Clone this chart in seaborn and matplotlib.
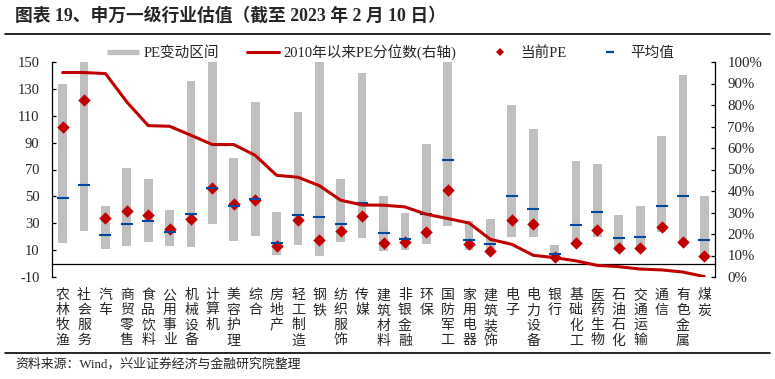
import numpy as np
import pandas as pd
import matplotlib
matplotlib.use("Agg")
import matplotlib.pyplot as plt
import seaborn as sns
from matplotlib.lines import Line2D

# ---------------- data ----------------
categories = ["农林牧渔", "社会服务", "汽车", "商贸零售", "食品饮料", "公用事业", "机械设备",
              "计算机", "美容护理", "综合", "房地产", "轻工制造", "钢铁", "纺织服饰", "传媒",
              "建筑材料", "非银金融", "环保", "国防军工", "家用电器", "建筑装饰", "电子",
              "电力设备", "银行", "基础化工", "医药生物", "石油石化", "交通运输", "通信",
              "有色金属", "煤炭"]
pe_high = [133.6, 150, 42.9, 71.1, 63.0, 39.9, 135.9, 150, 78.6, 120.2, 38.4, 112.8, 150,
           63.0, 141.8, 50.3, 37.6, 89.0, 150, 31.5, 33.2, 118.0, 100.1, 13.8, 76.3, 74.1,
           36.2, 42.9, 94.7, 140.3, 50.3]
pe_low = [15.1, 24.5, 11.1, 13.3, 16.3, 13.1, 12.6, 29.7, 17.0, 20.8, 6.4, 13.8, 5.9, 16.3,
          19.3, 9.6, 10.4, 14.8, 28.2, 9.9, 7.7, 20.0, 20.0, 5.0, 13.0, 20.0, 9.5, 9.5,
          23.7, 14.0, 4.5]
pe_now = [102.0, 122.0, 34.2, 38.9, 36.2, 25.5, 33.0, 56.5, 44.1, 47.3, 13.3, 32.2, 17.3,
          24.3, 35.4, 15.1, 16.1, 23.5, 54.5, 14.3, 9.1, 32.2, 29.2, 5.1, 15.1, 24.8, 11.4,
          11.4, 27.0, 15.8, 5.9]
pe_mean = [49.0, 58.7, 21.5, 29.7, 31.9, 23.7, 37.2, 56.5, 42.6, 48.3, 15.6, 36.4, 34.9,
           29.7, 45.3, 23.0, 18.3, 36.7, 77.3, 17.8, 14.8, 50.5, 40.9, 7.4, 29.0, 38.4,
           19.3, 20.0, 43.1, 50.5, 17.6]
pe_pct = [95.1, 95.1, 94.6, 81.4, 70.4, 70.1, 65.9, 61.6, 61.6, 56.6, 47.3, 46.4, 42.5,
          35.7, 33.5, 33.4, 32.6, 29.2, 27.2, 25.1, 17.5, 15.2, 10.1, 9.0, 7.5, 5.4, 4.8,
          3.7, 3.3, 2.3, 0.2]
left_ticks = list(range(-10, 151, 20))
right_ticks = list(range(0, 101, 10))
right_labels = [f"{v}%" for v in right_ticks]

title = "图表 19、申万一级行业估值（截至 2023 年 2 月 10 日）"
source = "资料来源：Wind，兴业证券经济与金融研究院整理"
legend_labels = ["PE变动区间", "2010年以来PE分位数(右轴)", "当前PE", "平均值"]

# ---------------- style ----------------
sns.set_style("white")
plt.rcParams['font.family'] = ['Liberation Serif', 'Noto Sans CJK SC', 'DejaVu Sans']
plt.rcParams['axes.unicode_minus'] = False

GRAY = "#BFBFBF"
RED = "#C00000"
BLUE = "#00489E"

n = len(categories)
df = pd.DataFrame({"x": np.arange(n), "high": pe_high, "low": pe_low,
                   "now": pe_now, "mean": pe_mean, "pct": pe_pct})

fig = plt.figure(figsize=(7.75, 3.79), dpi=100)
ax = fig.add_axes([52 / 775, 1 - 277 / 379, (715 - 52) / 775, (277 - 62) / 379])

ax.bar(df["x"], df["high"] - df["low"], bottom=df["low"], width=0.41, color=GRAY,
       linewidth=0, zorder=1)
sns.scatterplot(data=df, x="x", y="now", marker="D", s=40, color=RED, linewidth=0,
                ax=ax, zorder=3)
sns.scatterplot(data=df, x="x", y="mean", marker="_", s=75, color=BLUE, edgecolor=BLUE,
                linewidth=1.5, ax=ax, zorder=4)

ax.set_xlim(-0.5, n - 0.5)
ax.set_ylim(-10, 150)
ax.set_yticks(left_ticks)
ax.set_xticks(df["x"])
ax.set_xticklabels(["\n".join(c) for c in categories], fontsize=9.5, linespacing=1.27,
                   family=['Noto Sans CJK SC'])
ax.set_xticks(np.arange(0.5, n - 1, 1), minor=True)
ax.spines['bottom'].set_position(('data', 0))
for s in ['top', 'right']:
    ax.spines[s].set_visible(False)
for s in ['left', 'bottom']:
    ax.spines[s].set_color('black')
    ax.spines[s].set_linewidth(0.9)
ax.tick_params(axis='x', which='major', length=0, pad=18.5)
ax.tick_params(axis='x', which='minor', length=3.2, width=0.9, direction='in', color='black')
ax.tick_params(axis='y', direction='in', length=3.2, width=0.9, labelsize=10.5, pad=9,
               color='black', left=True)
ax.set_xlabel("")
ax.set_ylabel("")

ax2 = ax.twinx()
sns.lineplot(data=df, x="x", y="pct", color=RED, linewidth=2.2, ax=ax2)
ax2.set_ylim(0, 100)
ax2.set_yticks(right_ticks)
ax2.set_yticklabels(right_labels)
for s in ['top', 'bottom', 'left']:
    ax2.spines[s].set_visible(False)
ax2.spines['right'].set_color('black')
ax2.spines['right'].set_linewidth(0.9)
ax2.tick_params(axis='y', direction='in', length=3.2, width=0.9, labelsize=10.7, pad=9,
                color='black', right=True)
ax2.set_xlabel("")
ax2.set_ylabel("")
ax2.set_xlim(-0.5, n - 0.5)

# ---------------- legend ----------------
handles = [
    Line2D([], [], color=GRAY, lw=3.8, solid_capstyle='butt'),
    Line2D([], [], color=RED, lw=2.2),
    Line2D([], [], color=RED, lw=0, marker='D', markersize=4.3, markeredgewidth=0),
    Line2D([], [], color=BLUE, lw=0, marker='_', markersize=6, markeredgewidth=1.6),
]
fig.legend(handles, legend_labels, loc='center left', bbox_to_anchor=(107 / 775, 1 - 52 / 379),
           ncol=4, frameon=False, handlelength=2.2, handletextpad=0.3, columnspacing=1.9,
           borderpad=0, borderaxespad=0, fontsize=10.5)

# ---------------- title / source ----------------
fig.text(15 / 775, 1 - 16 / 379, title, fontsize=12.8, fontweight='bold', va='center',
         ha='left')
fig.add_artist(Line2D([5 / 775, 770 / 775], [1 - 34 / 379, 1 - 34 / 379],
                      transform=fig.transFigure, color='black', lw=1.2))
fig.add_artist(Line2D([5 / 775, 770 / 775], [1 - 352.5 / 379, 1 - 352.5 / 379],
                      transform=fig.transFigure, color='black', lw=1.2))
fig.text(15 / 775, 1 - 364 / 379, source, fontsize=9.3, va='center', ha='left')

fig.savefig("out.png", dpi=100)
